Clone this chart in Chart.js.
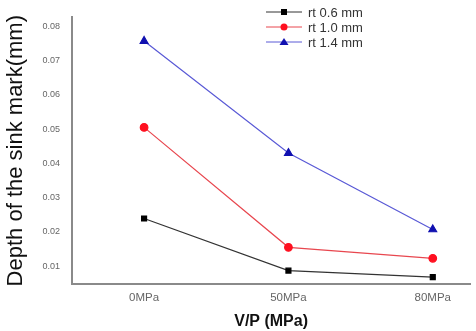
<!DOCTYPE html>
<html lang="en">
<head>
  <meta charset="UTF-8" />
  <title>Sink mark depth</title>
  <script src="https://cdn.jsdelivr.net/npm/chart.js"></script>
  <style>
    body { margin: 0; padding: 0; background: #fff; }
    canvas { display: block; }
  </style>
</head>
<body>
  <canvas id="sinkChart" width="476" height="331"></canvas>
  <script>
    // categories (V/P pressure) and series values
    const categories = ['0MPa', '50MPa', '80MPa'];
    const rt06 = [0.0239, 0.0087, 0.0068];
    const rt10 = [0.0505, 0.0155, 0.0123];
    const rt14 = [0.0757, 0.0430, 0.0207];
    const yTicks = [0.01, 0.02, 0.03, 0.04, 0.05, 0.06, 0.07, 0.08];

    const toPoints = arr => arr.map((v, i) => ({ x: i, y: v }));

    // small legend drawn in the top of the plot, like the original
    const insideLegend = {
      id: 'insideLegend',
      afterDraw(chart) {
        const ctx = chart.ctx;
        ctx.save();
        chart.data.datasets.forEach((ds, i) => {
          const y = 12 + i * 15;
          ctx.strokeStyle = ds.borderColor;
          ctx.lineWidth = 1;
          ctx.beginPath();
          ctx.moveTo(266, y);
          ctx.lineTo(302, y);
          ctx.stroke();
          ctx.fillStyle = ds.pointBackgroundColor;
          ctx.beginPath();
          if (ds.pointStyle === 'rect') {
            ctx.rect(281, y - 3, 6, 6);
          } else if (ds.pointStyle === 'triangle') {
            ctx.moveTo(284, y - 4);
            ctx.lineTo(288.5, y + 3);
            ctx.lineTo(279.5, y + 3);
            ctx.closePath();
          } else {
            ctx.arc(284, y, 3.5, 0, Math.PI * 2);
          }
          ctx.fill();
          ctx.fillStyle = '#333';
          ctx.font = '13px "Liberation Sans", Arial, sans-serif';
          ctx.textBaseline = 'middle';
          ctx.fillText(ds.label, 308, y + 1);
        });
        ctx.restore();
      }
    };

    new Chart(document.getElementById('sinkChart').getContext('2d'), {
      type: 'line',
      data: {
        datasets: [
          {
            label: 'rt 0.6 mm',
            data: toPoints(rt06),
            borderColor: '#333333',
            pointBackgroundColor: '#000000',
            pointBorderColor: '#000000',
            pointStyle: 'rect',
            pointRadius: 3.5,
            borderWidth: 1.2,
            tension: 0
          },
          {
            label: 'rt 1.0 mm',
            data: toPoints(rt10),
            borderColor: '#e8474f',
            pointBackgroundColor: '#ff1020',
            pointBorderColor: '#ff1020',
            pointStyle: 'circle',
            pointRadius: 3.8,
            borderWidth: 1.2,
            tension: 0
          },
          {
            label: 'rt 1.4 mm',
            data: toPoints(rt14),
            borderColor: '#5a5ad6',
            pointBackgroundColor: '#1010b0',
            pointBorderColor: '#1010b0',
            pointStyle: 'triangle',
            pointRadius: 4.5,
            borderWidth: 1.2,
            tension: 0
          }
        ]
      },
      options: {
        responsive: false,
        animation: false,
        layout: { padding: { top: 2, right: 0, bottom: 0, left: 3 } },
        plugins: {
          legend: { display: false },
          tooltip: { enabled: false }
        },
        scales: {
          x: {
            type: 'linear',
            min: -0.5,
            max: 2.26,
            afterBuildTicks: axis => { axis.ticks = categories.map((c, i) => ({ value: i })); },
            grid: { display: false, drawTicks: false },
            border: { display: true, color: '#8a8a8a', width: 2 },
            ticks: {
              callback: v => categories[v],
              color: '#666',
              font: { family: '"Liberation Sans", Arial, sans-serif', size: 11.5 },
              padding: 7,
              maxRotation: 0
            },
            title: {
              display: true,
              text: 'V/P (MPa)',
              color: '#111',
              font: { family: '"Liberation Sans", Arial, sans-serif', size: 16, weight: 'bold' },
              padding: { top: 0, bottom: 0 }
            }
          },
          y: {
            min: 0.0048,
            max: 0.0826,
            afterBuildTicks: axis => { axis.ticks = yTicks.map(v => ({ value: v })); },
            grid: { display: false, drawTicks: false },
            border: { display: true, color: '#8a8a8a', width: 2 },
            ticks: {
              callback: v => v.toFixed(2),
              color: '#666',
              font: { family: '"Liberation Sans", Arial, sans-serif', size: 9 },
              padding: 12
            },
            title: {
              display: true,
              text: 'Depth of the sink mark(mm)',
              color: '#111',
              font: { family: '"Liberation Sans", Arial, sans-serif', size: 22 },
              padding: { top: 0, bottom: 1 }
            }
          }
        }
      },
      plugins: [insideLegend]
    });
  </script>
</body>
</html>
